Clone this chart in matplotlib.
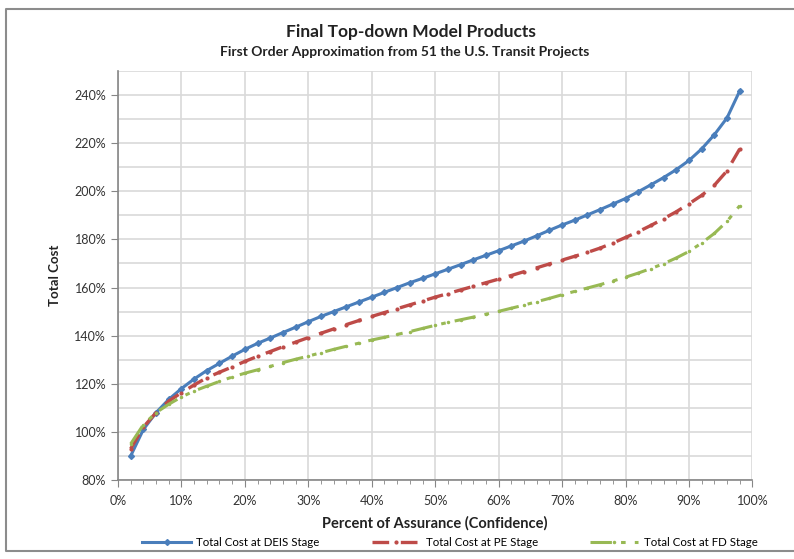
import numpy as np
import matplotlib.pyplot as plt
from matplotlib.lines import Line2D
from matplotlib.ticker import MultipleLocator, FuncFormatter

plt.rcParams['font.family'] = ['Lato', 'DejaVu Sans']

# percent of assurance (confidence), 2% .. 98%
assurance = list(range(2, 100, 2))

deis_cost = [90, 101, 108, 113.5, 118, 122, 125.5, 128.5, 131.5, 134.3,
             136.8, 139, 141.3, 143.5, 145.8, 148, 150, 152, 154, 156,
             158, 160, 162, 163.8, 165.7, 167.6, 169.5, 171.5, 173.4, 175.3,
             177.3, 179.3, 181.5, 183.8, 186, 188, 190.2, 192.4, 194.7, 197,
             199.8, 202.7, 205.7, 209, 212.8, 217.6, 223.5, 230.5, 241.7]

pe_cost = [93, 102, 108, 112.8, 116.3, 119.5, 122.5, 124.8, 127, 129.3,
           131.4, 133.4, 135.4, 137.3, 139.2, 141, 142.8, 144.6, 146.3, 148,
           149.6, 151.2, 152.8, 154.4, 156, 157.5, 159, 160.5, 162, 163.5,
           165, 166.6, 168.2, 169.8, 171.4, 173, 174.6, 176.4, 178.5, 180.8,
           183.2, 185.8, 188.6, 191.5, 194.8, 198.3, 202.5, 208.5, 217.6]

fd_cost = [95, 103, 108, 111.5, 114.5, 117, 119, 121, 122.8, 124.4,
           125.8, 127.2, 128.8, 130.2, 131.5, 132.9, 134.3, 135.6, 136.9, 138.2,
           139.3, 140.5, 141.7, 143, 144.3, 145.5, 146.6, 147.7, 148.9, 150.1,
           151.4, 152.7, 154.1, 155.5, 157, 158.4, 159.8, 161.2, 162.7, 164.3,
           166, 167.9, 169.9, 172.3, 175, 178.5, 182.5, 187.5, 194]

fig = plt.figure(figsize=(7.94, 5.59), dpi=100)
ax = fig.add_axes([0.1486, 0.1413, 0.7990, 0.7317])

ax.plot(assurance, deis_cost, color='#4A7EBB', lw=2.2, marker='D', ms=3,
        label='Total Cost at DEIS Stage')
ax.plot(assurance, pe_cost, color='#BE4B48', lw=2.4, ls=(0, (5, 3.5)),
        marker='o', ms=2, label='Total Cost at PE Stage')
ax.plot(assurance, fd_cost, color='#98B954', lw=2.2, ls=(0, (7, 3, 1.5, 3)),
        marker='o', ms=1.5, label='Total Cost at FD Stage')

ax.set_xlim(0, 100)
ax.set_ylim(80, 250)
ax.xaxis.set_major_locator(MultipleLocator(10))
ax.xaxis.set_minor_locator(MultipleLocator(2))
ax.yaxis.set_major_locator(MultipleLocator(20))
ax.yaxis.set_minor_locator(MultipleLocator(10))
pct = FuncFormatter(lambda v, p: '%d%%' % v)
ax.xaxis.set_major_formatter(pct)
ax.yaxis.set_major_formatter(pct)

ax.grid(True, which='major', axis='x', color='#d9d9d9', lw=1.2)
ax.grid(True, which='both', axis='y', color='#d9d9d9', lw=1.2)
ax.set_axisbelow(True)

for s in ['top', 'right']:
    ax.spines[s].set_visible(False)
for s in ['left', 'bottom']:
    ax.spines[s].set_color('#868686')
    ax.spines[s].set_linewidth(1.2)

ax.tick_params(axis='both', which='major', length=5, color='#868686',
               labelsize=9, labelcolor='#333333')
ax.tick_params(axis='x', which='minor', length=3, color='#868686')
ax.tick_params(axis='y', which='minor', length=0)
ax.tick_params(axis='x', which='major', pad=6)

ax.set_xlabel('Percent of Assurance (Confidence)', fontsize=10.5,
              fontweight='bold', color='#222222', labelpad=6)
ax.set_ylabel('Total Cost', fontsize=9.5, fontweight='bold',
              color='#222222', labelpad=10)

fig.text(0.518, 0.943, 'Final Top-down Model Products', ha='center',
         va='center', fontsize=12.5, fontweight='bold', color='#222222')
fig.text(0.51, 0.907, 'First Order Approximation from 51 the U.S. Transit Projects',
         ha='center', va='center', fontsize=10, fontweight='bold',
         color='#222222')

fig.legend(loc='center', bbox_to_anchor=(0.567, 0.029), ncol=3,
           frameon=False, fontsize=8.3, columnspacing=4.5, handlelength=4.2,
           handletextpad=0.5)

# chart-area border (runs off the right edge in the original)
bx0, by0, by1 = 6 / 794, 8 / 559, 1 - 9 / 559
fig.add_artist(Line2D([1.0, bx0, bx0, 1.0], [by1, by1, by0, by0],
                      transform=fig.transFigure, color='#8c8c8c', lw=1.5))

fig.savefig('out.png', dpi=100)
